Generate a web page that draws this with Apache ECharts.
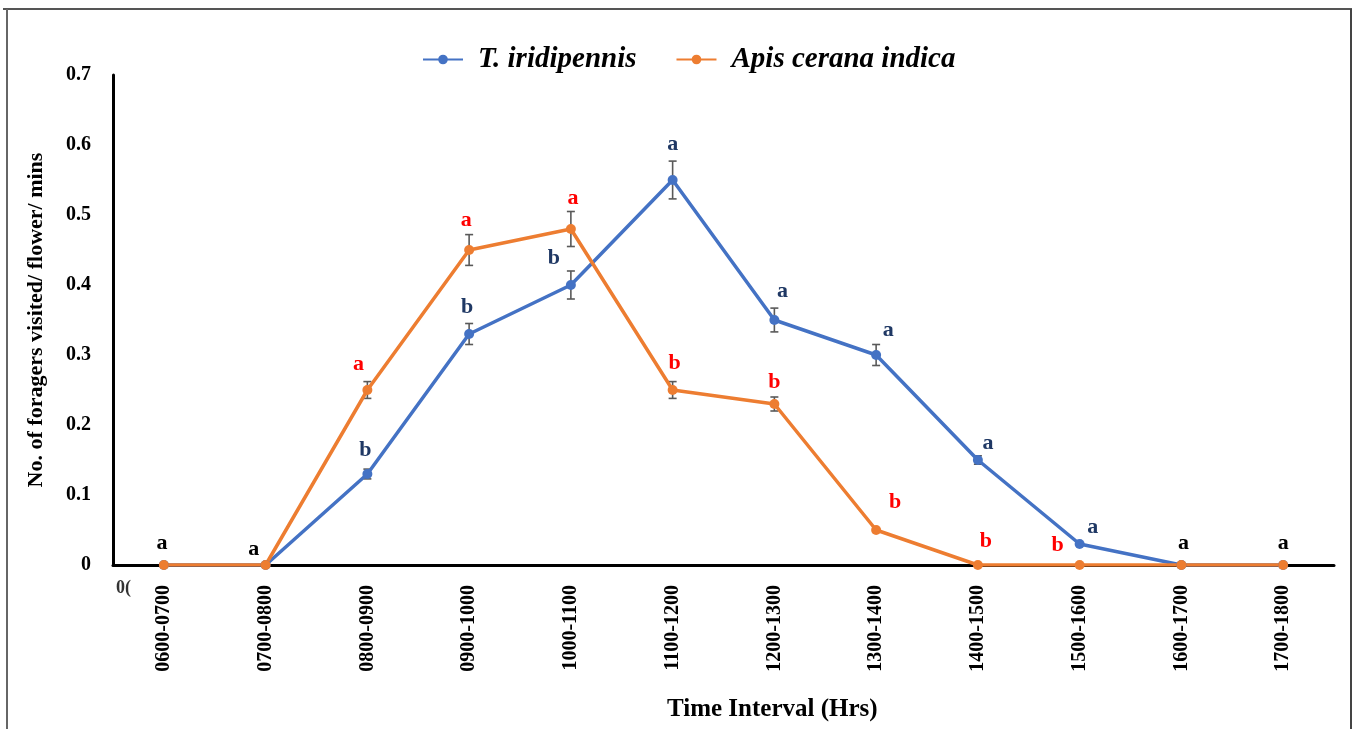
<!DOCTYPE html>
<html>
<head>
<meta charset="utf-8">
<script src="https://cdn.jsdelivr.net/npm/echarts@6/dist/echarts.min.js"></script>
<style>
html,body{margin:0;padding:0;background:#fff;}
#chart{width:1354px;height:729px;}
</style>
</head>
<body>
<div id="chart"></div>
<script>
const categories = ['0600-0700','0700-0800','0800-0900','0900-1000','1000-1100','1100-1200','1200-1300','1300-1400','1400-1500','1500-1600','1600-1700','1700-1800'];
const yTicks = [0, 0.1, 0.2, 0.3, 0.4, 0.5, 0.6, 0.7];
const seriesNames = ['T. iridipennis', 'Apis cerana indica'];
const tIridipennis = [0, 0, 0.13, 0.33, 0.40, 0.55, 0.35, 0.30, 0.15, 0.03, 0, 0];
const tIridipennisErr = [0, 0, 0.007, 0.015, 0.02, 0.027, 0.017, 0.015, 0.006, 0, 0, 0];
const apisCerana = [0, 0, 0.25, 0.45, 0.48, 0.25, 0.23, 0.05, 0, 0, 0, 0];
const apisCeranaErr = [0, 0, 0.012, 0.022, 0.025, 0.012, 0.01, 0, 0, 0, 0, 0];
const tLetters = ['', '', 'b', 'b', 'b', 'a', 'a', 'a', 'a', 'a', '', ''];
const apisLetters = ['', '', 'a', 'a', 'a', 'b', 'b', 'b', 'b', 'b', '', ''];
const commonLetters = ['a', 'a', '', '', '', '', '', '', '', '', 'a', 'a'];

// label placement offsets (style only, pixels relative to the point)
const tOffsets = [[0,0],[0,0],[-2,-24],[-2,-27],[-17,-27],[0,-36],[8,-29],[12,-25],[10,-17],[13,-17],[0,0],[0,0]];
const apisOffsets = [[0,0],[0,0],[-9,-26],[-3,-30],[2,-31],[2,-27],[0,-22],[19,-28],[8,-24],[-22,-20],[0,0],[0,0]];
const commonOffsets = [[-2,-22],[-12,-16],[0,0],[0,0],[0,0],[0,0],[0,0],[0,0],[0,0],[0,0],[2,-22],[0,-22]];

const FONT = '"Liberation Serif", "DejaVu Serif", serif';
const BLUE = '#4472C4', ORANGE = '#ED7D31', NAVY = '#1F3864', RED = '#FF0000';

function letterSeries(name, values, letters, offsets, color) {
  const data = [];
  values.forEach((v, i) => {
    if (letters[i]) {
      data.push({
        value: [categories[i], v],
        label: { show: true, formatter: letters[i], offset: offsets[i] }
      });
    }
  });
  return {
    name: name, type: 'scatter', data: data, symbolSize: 1,
    itemStyle: { color: '#fff', opacity: 0 },
    silent: true, z: 5,
    label: { show: true, position: 'inside', color: color, opacity: 1, textBorderWidth: 0, textBorderColor: 'transparent',
      fontFamily: FONT, fontWeight: 'bold', fontSize: 22 },
    emphasis: { disabled: true },
    tooltip: { show: false }
  };
}

function errorSeries(name, values, errs) {
  return {
    name: name, type: 'custom', z: 3, silent: true,
    data: values.map((v, i) => [i, v, errs[i]]),
    renderItem: function (params, api) {
      const e = api.value(2);
      if (!e) return null;
      const x = api.value(0), y = api.value(1);
      const top = api.coord([x, y + e]);
      const bot = api.coord([x, y - e]);
      const w = 4;
      const st = { stroke: '#595959', lineWidth: 1.6 };
      return {
        type: 'group', children: [
          { type: 'line', shape: { x1: top[0], y1: top[1], x2: bot[0], y2: bot[1] }, style: st },
          { type: 'line', shape: { x1: top[0] - w, y1: top[1], x2: top[0] + w, y2: top[1] }, style: st },
          { type: 'line', shape: { x1: bot[0] - w, y1: bot[1], x2: bot[0] + w, y2: bot[1] }, style: st }
        ]
      };
    }
  };
}

const chart = echarts.init(document.getElementById('chart'));
chart.setOption({
  backgroundColor: '#ffffff',
  animation: false,
  grid: { left: 113, right: 20, top: 75, bottom: 164, containLabel: false },
  legend: {
    data: seriesNames,
    top: 40, left: 417,
    itemWidth: 40, itemHeight: 12, itemGap: 39,
    textStyle: { fontFamily: FONT, fontStyle: 'italic', fontWeight: 'bold', fontSize: 29, color: '#000', padding: [0, 0, 0, 10] }
  },
  xAxis: {
    type: 'category', data: categories, boundaryGap: true,
    axisLine: { lineStyle: { color: '#000', width: 3 } },
    axisTick: { show: false },
    axisLabel: { rotate: 90, margin: 20, color: '#000', fontFamily: FONT, fontWeight: 'bold', fontSize: 20, interval: 0 },
    splitLine: { show: false }
  },
  yAxis: {
    type: 'value', min: yTicks[0], max: yTicks[yTicks.length - 1], interval: 0.1,
    name: 'No. of foragers visited/ flower/ mins', nameLocation: 'middle', nameGap: 66,
    nameTextStyle: { fontFamily: FONT, fontWeight: 'bold', fontSize: 22, color: '#000' },
    axisLine: { show: true, lineStyle: { color: '#000', width: 3 } },
    axisTick: { show: false },
    splitLine: { show: false },
    axisLabel: { margin: 22, color: '#000', fontFamily: FONT, fontWeight: 'bold', fontSize: 20 }
  },
  graphic: [
    { type: 'line', shape: { x1: 3, y1: 9, x2: 1352, y2: 9 }, style: { stroke: '#555', lineWidth: 2 } },
    { type: 'line', shape: { x1: 7, y1: 9, x2: 7, y2: 729 }, style: { stroke: '#666', lineWidth: 2 } },
    { type: 'line', shape: { x1: 1351, y1: 9, x2: 1351, y2: 729 }, style: { stroke: '#444', lineWidth: 2 } },
    { type: 'text', left: 667, top: 697, style: { text: 'Time Interval (Hrs)', fontFamily: FONT, fontWeight: 'bold', fontSize: 25, fill: '#000' } },
    { type: 'text', left: 116, top: 579, style: { text: '0(', fontFamily: FONT, fontWeight: 'bold', fontSize: 18, fill: '#333' } }
  ],
  series: [
    {
      name: seriesNames[0], type: 'line', data: tIridipennis, z: 4,
      symbol: 'circle', symbolSize: 10,
      lineStyle: { color: BLUE, width: 3.5 }, itemStyle: { color: BLUE }
    },
    {
      name: seriesNames[1], type: 'line', data: apisCerana, z: 4,
      symbol: 'circle', symbolSize: 10,
      lineStyle: { color: ORANGE, width: 3.5 }, itemStyle: { color: ORANGE }
    },
    errorSeries('errT', tIridipennis, tIridipennisErr),
    errorSeries('errA', apisCerana, apisCeranaErr),
    letterSeries('lettersT', tIridipennis, tLetters, tOffsets, NAVY),
    letterSeries('lettersA', apisCerana, apisLetters, apisOffsets, RED),
    letterSeries('lettersC', apisCerana, commonLetters, commonOffsets, '#000')
  ]
});
</script>
</body>
</html>
